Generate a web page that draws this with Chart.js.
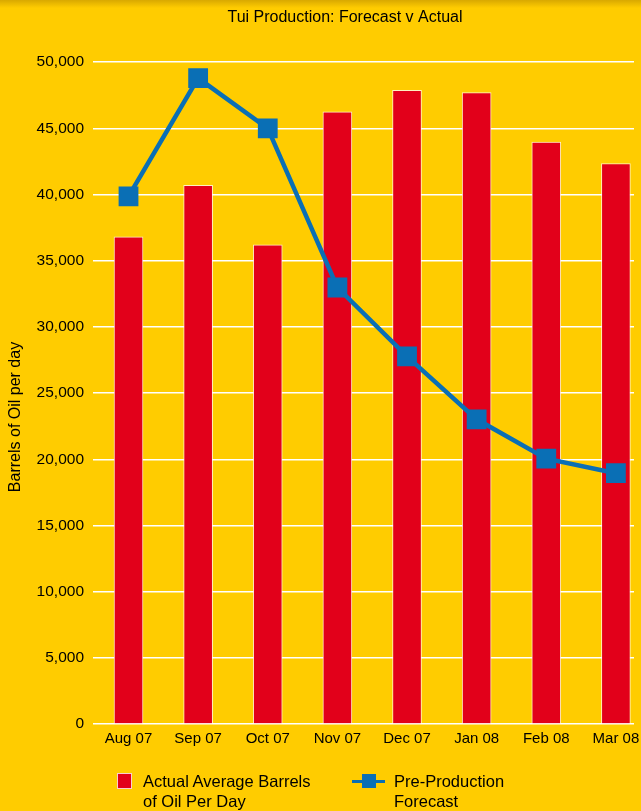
<!DOCTYPE html>
<html>
<head>
<meta charset="utf-8">
<script src="https://cdn.jsdelivr.net/npm/chart.js@4.4.1/dist/chart.umd.min.js"></script>
<style>
  html, body { margin: 0; padding: 0; background: #FFCC00; }
  #wrap { position: relative; width: 641px; height: 811px; overflow: hidden; background: #FFCC00; }
  #shade { position: absolute; left: 0; top: 0; width: 641px; height: 8px;
           background: linear-gradient(rgba(120,80,0,0.28), rgba(120,80,0,0)); pointer-events: none; }
  canvas { position: absolute; left: 0; top: 0; }
  .legend { position: absolute; top: 771px; font: 16.5px "Liberation Sans", Arial, Helvetica, sans-serif;
            color: #000; line-height: 20px; }
  .legend .txt { position: absolute; left: 26px; top: 0; white-space: nowrap; }
  .swatch-bar { position: absolute; left: 0; top: 2px; width: 13px; height: 14px;
                background: #E2001A; border: 1px solid rgba(255,255,255,0.8); }
  .swatch-line { position: absolute; left: -8px; top: 9px; width: 33px; height: 3px; background: #0A6FB5; }
  .swatch-pt { position: absolute; left: 2px; top: 3px; width: 14px; height: 14px; background: #0A6FB5; }
</style>
</head>
<body>
<div id="wrap">
  <canvas id="chart" width="690" height="811"></canvas>
  <div id="shade"></div>
  <div class="legend" style="left:117px">
    <div class="swatch-bar"></div>
    <div class="txt">Actual Average Barrels<br>of Oil Per Day</div>
  </div>
  <div class="legend" style="left:360px">
    <div class="swatch-line"></div><div class="swatch-pt"></div>
    <div class="txt" style="left:34px">Pre-Production<br>Forecast</div>
  </div>
</div>
<script>
  // === Data ===
  const MONTHS = ["Aug 07","Sep 07","Oct 07","Nov 07","Dec 07","Jan 08","Feb 08","Mar 08"];
  const ACTUAL = [36800, 40700, 36200, 46250, 47870, 47700, 43960, 42350];
  const FORECAST = [39870, 48800, 45000, 32980, 27770, 23020, 20050, 18950];
  const Y_TICKS = [0, 5000, 10000, 15000, 20000, 25000, 30000, 35000, 40000, 45000, 50000];

  const FONT = '"Liberation Sans", Arial, Helvetica, sans-serif';
  const RED = '#E2001A', BLUE = '#0A6FB5';

  // y axis title drawn by hand so it sits where the original had it
  const yTitle = {
    id: 'yTitle',
    afterDraw(chart) {
      const ctx = chart.ctx;
      ctx.save();
      ctx.translate(16, 417);
      ctx.rotate(-Math.PI / 2);
      ctx.font = '16px ' + FONT;
      ctx.fillStyle = '#000';
      ctx.textAlign = 'center';
      ctx.textBaseline = 'middle';
      ctx.fillText('Barrels of Oil per day', 0, 0);
      ctx.restore();
    }
  };

  new Chart(document.getElementById('chart'), {
    type: 'bar',
    data: {
      datasets: [
        {
          type: 'line',
          label: 'Pre-Production Forecast',
          data: FORECAST.map((v, i) => ({ x: i, y: v })),
          borderColor: BLUE,
          backgroundColor: BLUE,
          borderWidth: 4.5,
          pointStyle: 'rect',
          pointRadius: 14,
          pointBorderWidth: 0,
          pointBackgroundColor: BLUE,
          tension: 0,
          order: 0
        },
        {
          type: 'bar',
          label: 'Actual Average Barrels of Oil Per Day',
          data: ACTUAL.map((v, i) => ({ x: i, y: v })),
          backgroundColor: RED,
          borderColor: 'rgba(255,255,255,0.75)',
          borderWidth: 1,
          barThickness: 29,
          order: 1
        }
      ]
    },
    options: {
      responsive: false,
      animation: false,
      events: [],
      layout: { padding: { left: 0, right: 0, top: 0, bottom: 57 } },
      plugins: {
        legend: { display: false },
        tooltip: { enabled: false },
        title: {
          display: true,
          text: 'Tui Production: Forecast v Actual',
          color: '#000',
          font: { family: FONT, size: 16, weight: 'normal' },
          padding: { top: 8, bottom: 35 }
        }
      },
      scales: {
        x: {
          type: 'linear',
          offset: false,
          min: -0.51,
          max: 7.26,
          grid: { display: false, drawTicks: false, offset: false },
          border: { display: false },
          afterBuildTicks: (axis) => { axis.ticks = MONTHS.map((_, i) => ({ value: i })); },
          ticks: {
            autoSkip: false,
            maxRotation: 0,
            padding: 6,
            color: '#000',
            font: { family: FONT, size: 15 },
            callback: (v) => MONTHS[v]
          }
        },
        y: {
          min: 0,
          max: 50000,
          afterFit: (scale) => { scale.width = 93; },
          afterBuildTicks: (axis) => { axis.ticks = Y_TICKS.map(v => ({ value: v })); },
          grid: { color: '#FFFFFF', lineWidth: 1.5, drawTicks: false },
          border: { display: false },
          ticks: {
            padding: 9,
            color: '#000',
            font: { family: FONT, size: 15.5 },
            callback: (v) => v.toLocaleString('en-US')
          }
        },
        // empty right-hand spacer so the plot stops where the original did
        ySpacer: {
          position: 'right',
          min: 0,
          max: 50000,
          afterFit: (scale) => { scale.width = 56; },
          grid: { display: false, drawTicks: false },
          border: { display: false },
          ticks: { display: false }
        }
      }
    },
    plugins: [yTitle]
  });
</script>
</body>
</html>
